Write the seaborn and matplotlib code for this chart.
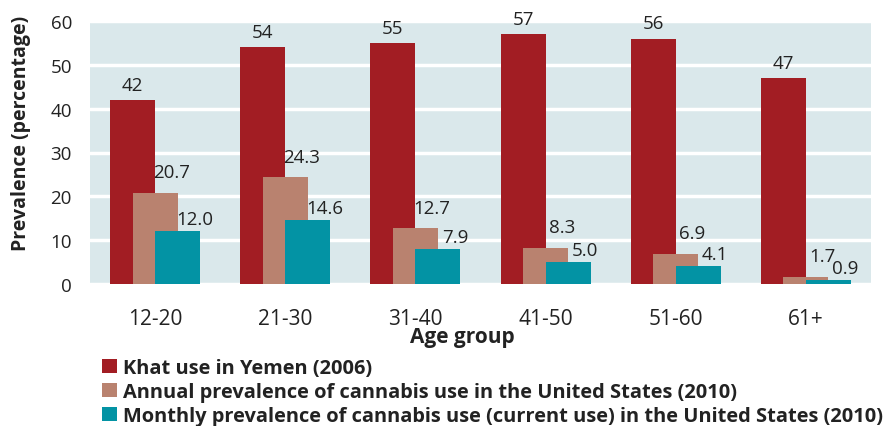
import seaborn as sns
import matplotlib.pyplot as plt
import pandas as pd
import numpy as np
from matplotlib.patches import Patch

# data
age_groups = ['12-20', '21-30', '31-40', '41-50', '51-60', '61+']
khat = [42, 54, 55, 57, 56, 47]
annual = [20.7, 24.3, 12.7, 8.3, 6.9, 1.7]
monthly = [12.0, 14.6, 7.9, 5.0, 4.1, 0.9]
series_names = ['Khat use in Yemen (2006)',
                'Annual prevalence of cannabis use in the United States (2010)',
                'Monthly prevalence of cannabis use (current use) in the United States (2010)']
colors = ['#A21D23', '#B9826F', '#0393A4']

df = pd.DataFrame({'Age group': age_groups, series_names[0]: khat,
                   series_names[1]: annual, series_names[2]: monthly})
df = df.melt(id_vars='Age group', var_name='Series', value_name='Value')

sns.set_style('white')
plt.rcParams['font.family'] = ['Open Sans', 'DejaVu Sans']
txt = '#222222'

fig = plt.figure(figsize=(8.87, 4.27), dpi=100)
ax = fig.add_axes([90 / 887, 1 - 285 / 427, 781 / 887, 263 / 427])
ax.set_facecolor('#DAE8EB')

sns.barplot(data=df, x='Age group', y='Value', hue='Series', palette=colors,
            hue_order=series_names, width=0.52, saturation=1, errorbar=None,
            legend=False, ax=ax, zorder=3)

# widen the bars so neighbours overlap like in the original
for p in ax.patches:
    c = p.get_x() + p.get_width() / 2
    p.set_width(0.346)
    p.set_x(c - 0.173)
    p.set_linewidth(0)

# value labels
dx = [0, 0.125, 0.13]
dy = [2.3, 3.6, 1.6]
for i, cont in enumerate(ax.containers):
    for p in cont:
        h = p.get_height()
        lab = f'{h:.0f}' if i == 0 else f'{h:.1f}'
        ax.text(p.get_x() + p.get_width() / 2 + dx[i], h + dy[i], lab,
                ha='center', va='baseline', fontsize=13.5, color=txt, zorder=4)

ax.set_ylim(0, 60)
ax.set_xlim(-0.5, 5.5)
ax.set_yticks(range(0, 61, 10))
ax.yaxis.grid(True, color='white', lw=2.5, zorder=1)
ax.set_axisbelow(True)
for s in ax.spines.values():
    s.set_visible(False)
ax.set_xlabel('')
ax.set_ylabel('')
ax.tick_params(axis='y', length=0, pad=13, labelsize=13.5, labelcolor=txt)
ax.tick_params(axis='x', which='major', length=0, pad=17, labelsize=15, labelcolor=txt)
ax.set_xticks(np.arange(-0.5, 6), minor=True)
ax.tick_params(axis='x', which='minor', length=7, color='#E3EBED', width=1)

fig.text(21 / 887, 1 - 133 / 427, 'Prevalence (percentage)', rotation=90,
         ha='center', va='center', fontsize=14, fontweight='bold', color=txt)
fig.text(462 / 887, 1 - 338 / 427, 'Age group', ha='center', va='center',
         fontsize=15, fontweight='bold', color=txt)

handles = [Patch(facecolor=c, edgecolor='none') for c in colors]
fig.legend(handles, series_names, loc='upper left',
           bbox_to_anchor=(102 / 887, 1 - 359 / 427), frameon=False,
           prop={'weight': 'bold', 'size': 14.4}, labelcolor=txt,
           handlelength=0.75, handleheight=0.7, handletextpad=0.3,
           labelspacing=0.2, borderpad=0, borderaxespad=0)

fig.savefig('out.png', dpi=100)
